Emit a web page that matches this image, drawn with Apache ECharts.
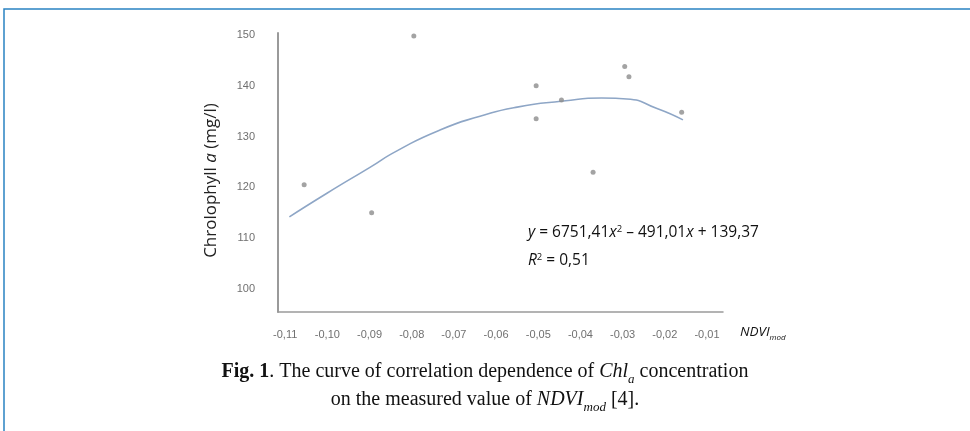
<!DOCTYPE html>
<html>
<head>
<meta charset="utf-8">
<script src="https://cdn.jsdelivr.net/npm/echarts@6/dist/echarts.min.js"></script>
<style>
  html, body { margin: 0; padding: 0; background: #fff; }
  #chart { width: 970px; height: 431px; }
</style>
</head>
<body>
<div id="chart"></div>
<script>
// measured points (NDVI_mod, Chl a)
const ndvi = [-0.1055, -0.0895, -0.0795, -0.0505, -0.0505, -0.0445, -0.037, -0.0295, -0.0285, -0.016];
const chl = [120.5, 115.0, 149.8, 140.0, 133.5, 137.2, 123.0, 143.8, 141.8, 134.8];

// trend curve as drawn in the figure
const trendX = [-0.109, -0.100, -0.090, -0.0835, -0.0733, -0.0638, -0.055, -0.0441, -0.035, -0.029, -0.022, -0.0157];
const trendY = [114.2, 118.9, 123.9, 127.2, 131.3, 134.0, 135.8, 137.0, 137.6, 137.4, 135.6, 133.3];

// tick labels
const xTicks = [-0.11, -0.10, -0.09, -0.08, -0.07, -0.06, -0.05, -0.04, -0.03, -0.02, -0.01];
const yTicks = [100, 110, 120, 130, 140, 150];

const chart = echarts.init(document.getElementById('chart'));

const tickFont = { color: '#707070', fontSize: 11, fontFamily: 'Liberation Sans' };

chart.setOption({
  animation: false,
  grid: { left: 278, top: 33, right: 247, bottom: 119 },
  xAxis: {
    type: 'value',
    min: -0.1117,
    max: -0.0062,
    axisLine: { lineStyle: { color: '#9a9a9a', width: 1.5 } },
    axisTick: { show: false },
    splitLine: { show: false },
    axisLabel: Object.assign({
      customValues: xTicks,
      margin: 17,
      formatter: v => v.toFixed(2).replace('.', ',')
    }, tickFont)
  },
  yAxis: {
    type: 'value',
    min: 95.47,
    max: 150.4,
    axisLine: { show: true, lineStyle: { color: '#9a9a9a', width: 2 } },
    axisTick: { show: false },
    splitLine: { show: false },
    axisLabel: Object.assign({
      customValues: yTicks,
      margin: 23
    }, tickFont),
    name: '{n|Chrolophyll }{i|a}{n| (mg/l)}',
    nameLocation: 'middle',
    nameGap: 58,
    nameRotate: 90,
    nameTextStyle: {
      padding: [0, 16, 0, 0],
      rich: {
        n: { fontSize: 17, color: '#222', fontFamily: 'Open Sans' },
        i: { fontSize: 17, color: '#222', fontFamily: 'Open Sans', fontStyle: 'italic' }
      }
    }
  },
  series: [
    {
      type: 'line',
      data: trendX.map((x, i) => [x, trendY[i]]),
      smooth: 0.6,
      showSymbol: false,
      lineStyle: { color: '#8ea6c6', width: 1.6 },
      z: 1
    },
    {
      type: 'scatter',
      data: ndvi.map((x, i) => [x, chl[i]]),
      symbolSize: 5,
      itemStyle: { color: '#8c8c8c' },
      z: 2
    }
  ],
  graphic: [
    {
      type: 'rect',
      shape: { x: 4, y: 9, width: 990, height: 450 },
      style: { fill: 'none', stroke: '#2a82c2', lineWidth: 1.5 },
      silent: true
    },
    {
      type: 'text', left: 528, top: 224,
      style: {
        text: '{i|y} = 6751,41{i|x}{sup|2} – 491,01{i|x} + 139,37',
        rich: {
          i: { fontSize: 15.5, fontStyle: 'italic', fontFamily: 'Open Sans', fill: '#111' },
          sup: { fontSize: 9.5, fontFamily: 'Open Sans', fill: '#111', padding: [0, 0, 8, 0] }
        },
        fontSize: 15.5, fontFamily: 'Open Sans', fill: '#111'
      }
    },
    {
      type: 'text', left: 528, top: 252,
      style: {
        text: '{i|R}{sup|2} = 0,51',
        rich: {
          i: { fontSize: 15.5, fontStyle: 'italic', fontFamily: 'Open Sans', fill: '#111' },
          sup: { fontSize: 9.5, fontFamily: 'Open Sans', fill: '#111', padding: [0, 0, 8, 0] }
        },
        fontSize: 15.5, fontFamily: 'Open Sans', fill: '#111'
      }
    },
    {
      type: 'text', left: 740, top: 325,
      style: {
        text: '{i|NDVI}{sub|mod}',
        rich: {
          i: { fontSize: 13.5, fontStyle: 'italic', fontFamily: 'Open Sans', fill: '#111' },
          sub: { fontSize: 8, fontStyle: 'italic', fontFamily: 'Open Sans', fill: '#111', padding: [11, 0, 0, 0] }
        }
      }
    },
    {
      type: 'text', left: 'center', top: 362,
      style: {
        text: '{b|Fig. 1}. The curve of correlation dependence of {i|Chl}{sub|a} concentration',
        rich: {
          b: { fontSize: 20, fontWeight: 'bold', fontFamily: 'Liberation Serif', fill: '#111' },
          i: { fontSize: 20, fontStyle: 'italic', fontFamily: 'Liberation Serif', fill: '#111' },
          sub: { fontSize: 13, fontStyle: 'italic', fontFamily: 'Liberation Serif', fill: '#111', padding: [15, 0, 0, 0] }
        },
        fontSize: 20, fontFamily: 'Liberation Serif', fill: '#111'
      }
    },
    {
      type: 'text', left: 'center', top: 390,
      style: {
        text: 'on the measured value of {i|NDVI}{sub|mod} [4].',
        rich: {
          i: { fontSize: 20, fontStyle: 'italic', fontFamily: 'Liberation Serif', fill: '#111' },
          sub: { fontSize: 13, fontStyle: 'italic', fontFamily: 'Liberation Serif', fill: '#111', padding: [15, 0, 0, 0] }
        },
        fontSize: 20, fontFamily: 'Liberation Serif', fill: '#111'
      }
    }
  ]
});
</script>
</body>
</html>
